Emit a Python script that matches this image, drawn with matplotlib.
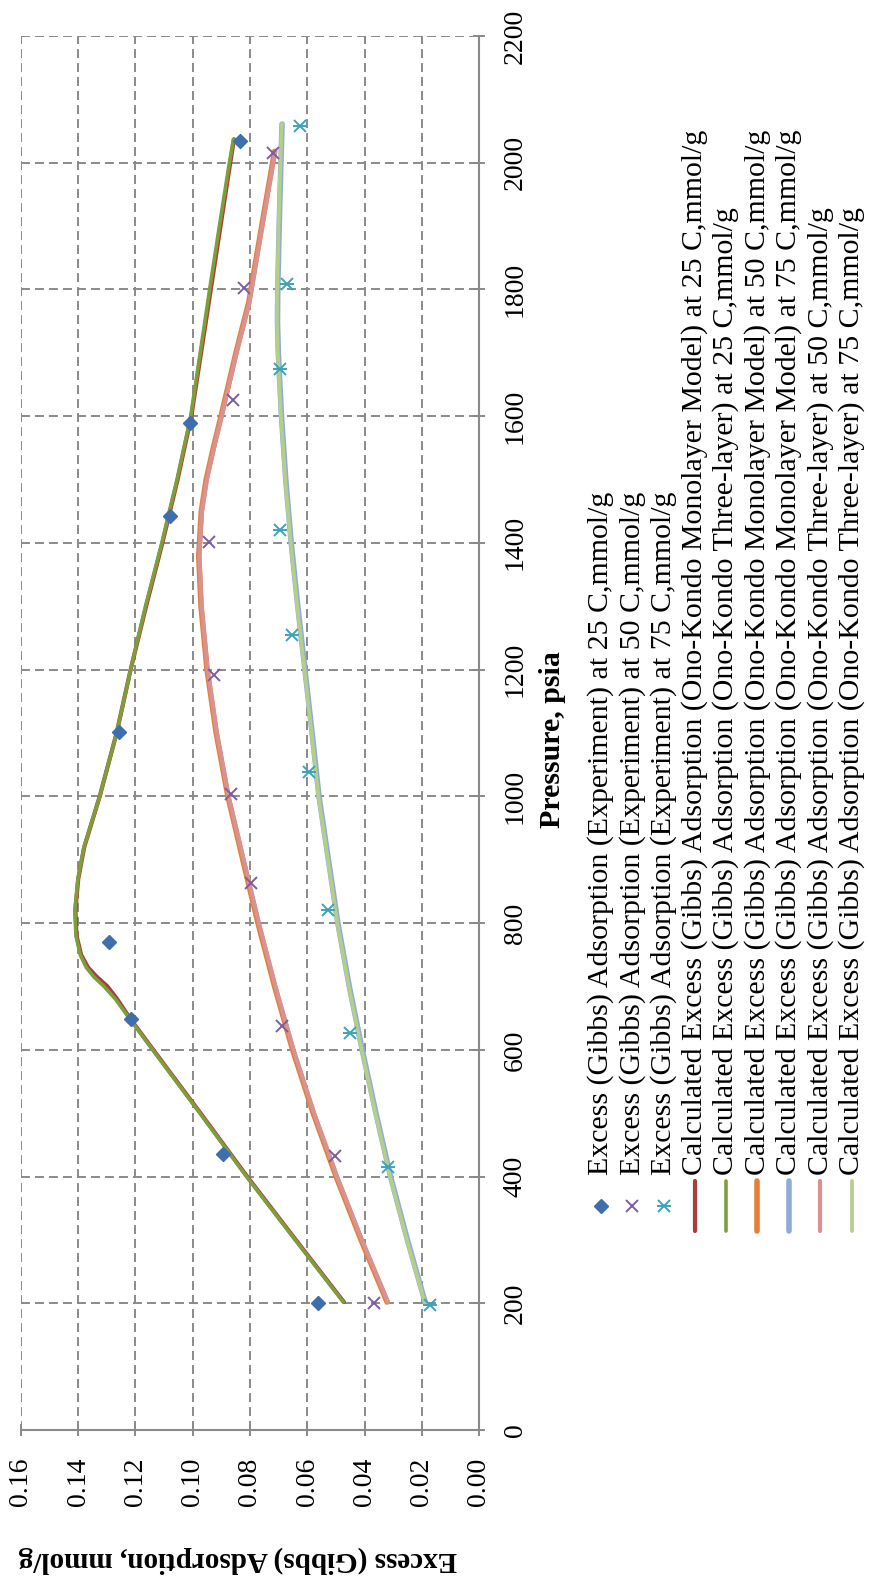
import numpy as np
import matplotlib
matplotlib.use("Agg")
import matplotlib.pyplot as plt
from matplotlib.lines import Line2D
from matplotlib.ticker import MultipleLocator, FuncFormatter

plt.rcParams["font.family"] = ["Liberation Serif", "DejaVu Serif"]

# ---- data (pressure psia, excess adsorption mmol/g) ----
p25_exp = [200, 436, 648, 770, 1101, 1443, 1590, 2035]
a25_exp = [0.0561, 0.0896, 0.1215, 0.1293, 0.1257, 0.1080, 0.1010, 0.0835]

p50_exp = [201, 432, 637, 864, 1003, 1191, 1401, 1625, 1802, 2015]
a50_exp = [0.0367, 0.0503, 0.0689, 0.0798, 0.0866, 0.0925, 0.0942, 0.0861, 0.0821, 0.0719]

p75_exp = [197, 415, 626, 820, 1038, 1255, 1421, 1674, 1809, 2058]
a75_exp = [0.0171, 0.0317, 0.0451, 0.0527, 0.0593, 0.0654, 0.0695, 0.0695, 0.0672, 0.0625]

p25_calc = [202, 300, 400, 500, 600, 650, 680, 700, 715, 730, 750, 780, 820, 870,
            920, 1000, 1100, 1200, 1300, 1400, 1500, 1600, 1700, 1800, 1900, 2000, 2037]
a25_mono = [0.0472, 0.0640, 0.0810, 0.0973, 0.1138, 0.1220, 0.1264, 0.1298, 0.1335, 0.1366,
            0.1390, 0.1406, 0.1410, 0.1400, 0.1379, 0.1325, 0.1266, 0.1217, 0.1163, 0.1106,
            0.1053, 0.1005, 0.0971, 0.0937, 0.0903, 0.0869, 0.0856]
a25_three = [0.0474, 0.0642, 0.0812, 0.0975, 0.1140, 0.1222, 0.1270, 0.1310, 0.1345, 0.1372,
             0.1393, 0.1408, 0.1412, 0.1401, 0.1380, 0.1325, 0.1266, 0.1217, 0.1165, 0.1108,
             0.1055, 0.1007, 0.0974, 0.0941, 0.0907, 0.0872, 0.0858]

p50_calc = [202, 300, 400, 500, 600, 700, 800, 900, 1000, 1100, 1200, 1300, 1380, 1450,
            1500, 1550, 1600, 1700, 1780, 1900, 2018]
a50_mono = [0.0321, 0.0412, 0.0499, 0.0579, 0.0651, 0.0714, 0.0772, 0.0825, 0.0877, 0.0918,
            0.0950, 0.0971, 0.0979, 0.0970, 0.0953, 0.0928, 0.0901, 0.0849, 0.0804, 0.0759, 0.0714]
a50_three = [0.0318, 0.0409, 0.0496, 0.0576, 0.0648, 0.0711, 0.0769, 0.0822, 0.0875, 0.0916,
             0.0948, 0.0969, 0.0977, 0.0968, 0.0951, 0.0926, 0.0899, 0.0847, 0.0802, 0.0757, 0.0712]

p75_calc = [200, 300, 400, 500, 600, 700, 800, 900, 1000, 1100, 1200, 1300, 1400, 1500,
            1600, 1700, 1750, 1800, 1900, 2000, 2061]
a75_mono = [0.0187, 0.0250, 0.0309, 0.0360, 0.0408, 0.0453, 0.0493, 0.0526, 0.0559, 0.0583,
            0.0608, 0.0633, 0.0656, 0.0675, 0.0690, 0.0701, 0.0704, 0.0703, 0.0698, 0.0692, 0.0688]
a75_three = [0.0189, 0.0252, 0.0311, 0.0362, 0.0410, 0.0455, 0.0495, 0.0528, 0.0561, 0.0585,
             0.0610, 0.0635, 0.0658, 0.0677, 0.0692, 0.0703, 0.0706, 0.0705, 0.0700, 0.0694, 0.0689]

labels = [
    "Excess (Gibbs) Adsorption (Experiment) at 25 C,mmol/g",
    "Excess (Gibbs) Adsorption (Experiment) at 50 C,mmol/g",
    "Excess (Gibbs) Adsorption (Experiment) at 75 C,mmol/g",
    "Calculated Excess (Gibbs) Adsorption (Ono-Kondo Monolayer Model) at 25 C,mmol/g",
    "Calculated Excess (Gibbs) Adsorption (Ono-Kondo Three-layer) at 25 C,mmol/g",
    "Calculated Excess (Gibbs) Adsorption (Ono-Kondo Monolayer Model) at 50 C,mmol/g",
    "Calculated Excess (Gibbs) Adsorption (Ono-Kondo Monolayer Model) at 75 C,mmol/g",
    "Calculated Excess (Gibbs) Adsorption (Ono-Kondo Three-layer) at 50 C,mmol/g",
    "Calculated Excess (Gibbs) Adsorption (Ono-Kondo Three-layer) at 75 C,mmol/g",
]

_colors = {
    "d25": "#3E6EAD",
    "x50": "#7B5EA1",
    "s75": "#3DA2BE",
    "mono25": "#AA3C39",
    "three25": "#7E9E3C",
    "mono50": "#E2803A",
    "mono75": "#8EACD8",
    "three50": "#D9928F",
    "three75": "#B5CE8C",
}
_lw = {"mono25": 3.0, "three25": 2.6, "mono50": 4.0, "mono75": 4.0, "three50": 3.0, "three75": 2.7}

W, H = 870, 1583


def fx(x):
    return x / W


def fy(y):
    return 1 - y / H


fig = plt.figure(figsize=(8.70, 15.83), dpi=100)
ax = fig.add_axes([fx(21), fy(1430), (479 - 21) / W, (1430 - 36) / H])

grid_col = "#8A8A8A"

# calculated curves (pressure on the vertical axis, chart is turned on its side)
curves = [
    ("mono25", p25_calc, a25_mono),
    ("three25", p25_calc, a25_three),
    ("mono50", p50_calc, a50_mono),
    ("mono75", p75_calc, a75_mono),
    ("three50", p50_calc, a50_three),
    ("three75", p75_calc, a75_three),
]
for _key, _p, _a in curves:
    ax.plot(_a, _p, color=_colors[_key], lw=_lw[_key], solid_capstyle="round",
            solid_joinstyle="round", zorder=3)

ax.plot(a25_exp, p25_exp, ls="none", marker="D", ms=7.5, color=_colors["d25"], zorder=5)
ax.plot(a50_exp, p50_exp, ls="none", marker="x", ms=8, mew=1.4, color=_colors["x50"], zorder=5)
ax.plot(a75_exp, p75_exp, ls="none", marker="x", ms=8, mew=1.4, color=_colors["s75"], zorder=5)
ax.plot(a75_exp, p75_exp, ls="none", marker="_", ms=10, mew=1.4, color=_colors["s75"], zorder=5)

ax.set_xlim(0.16, 0.0)
ax.set_ylim(0, 2200)
ax.xaxis.set_major_locator(MultipleLocator(0.02))
ax.yaxis.set_major_locator(MultipleLocator(200))
ax.xaxis.set_major_formatter(FuncFormatter(lambda v, _: f"{v:.2f}"))
ax.yaxis.set_major_formatter(FuncFormatter(lambda v, _: f"{int(round(v))}"))
ax.yaxis.tick_right()

ax.grid(True, which="major", color=grid_col, lw=1.4, linestyle=(0, (4.6, 2.6)), zorder=0)
ax.set_axisbelow(True)

for s in ["left", "top"]:
    ax.spines[s].set_visible(False)
for s in ["right", "bottom"]:
    ax.spines[s].set_color(grid_col)
    ax.spines[s].set_linewidth(1.5)

ax.tick_params(axis="x", direction="inout", length=8, width=1.4, color=grid_col,
               labelrotation=90, labelsize=20, pad=16)
ax.tick_params(axis="y", direction="inout", length=8, width=1.4, color=grid_col,
               labelrotation=90, labelsize=20, pad=13)
for t in ax.get_yticklabels():
    t.set_va("center")

fig.text(fx(238), fy(1560), "Excess (Gibbs) Adsorption, mmol/g", rotation=180,
         ha="center", va="center", fontsize=21, fontweight="bold")
fig.text(fx(552), fy(740), "Pressure, psia", rotation=90,
         ha="center", va="center", fontsize=21.5, fontweight="bold")

# legend, drawn by hand so the entries can be turned
leg_x = [601, 632.3, 663.7, 695, 726, 757.3, 789, 820.3, 851.7]
leg_keys = ["d25", "x50", "s75", "mono25", "three25", "mono50", "mono75", "three50", "three75"]
for _x, _key, _lab in zip(leg_x, leg_keys, labels):
    fig.text(fx(_x), fy(1175), _lab, rotation=90, ha="center", va="bottom", fontsize=21.5)
    if _key == "d25":
        fig.add_artist(Line2D([fx(_x)], [fy(1206)], marker="D", ms=7.5, color=_colors[_key], ls="none"))
    elif _key == "x50":
        fig.add_artist(Line2D([fx(_x)], [fy(1206)], marker="x", ms=8, mew=1.4, color=_colors[_key], ls="none"))
    elif _key == "s75":
        fig.add_artist(Line2D([fx(_x)], [fy(1206)], marker="x", ms=8, mew=1.4, color=_colors[_key], ls="none"))
        fig.add_artist(Line2D([fx(_x)], [fy(1206)], marker="_", ms=10, mew=1.4, color=_colors[_key], ls="none"))
    else:
        fig.add_artist(Line2D([fx(_x), fx(_x)], [fy(1181), fy(1231)], color=_colors[_key],
                              lw=_lw[_key], solid_capstyle="round"))

plt.savefig("out.png", dpi=100)
